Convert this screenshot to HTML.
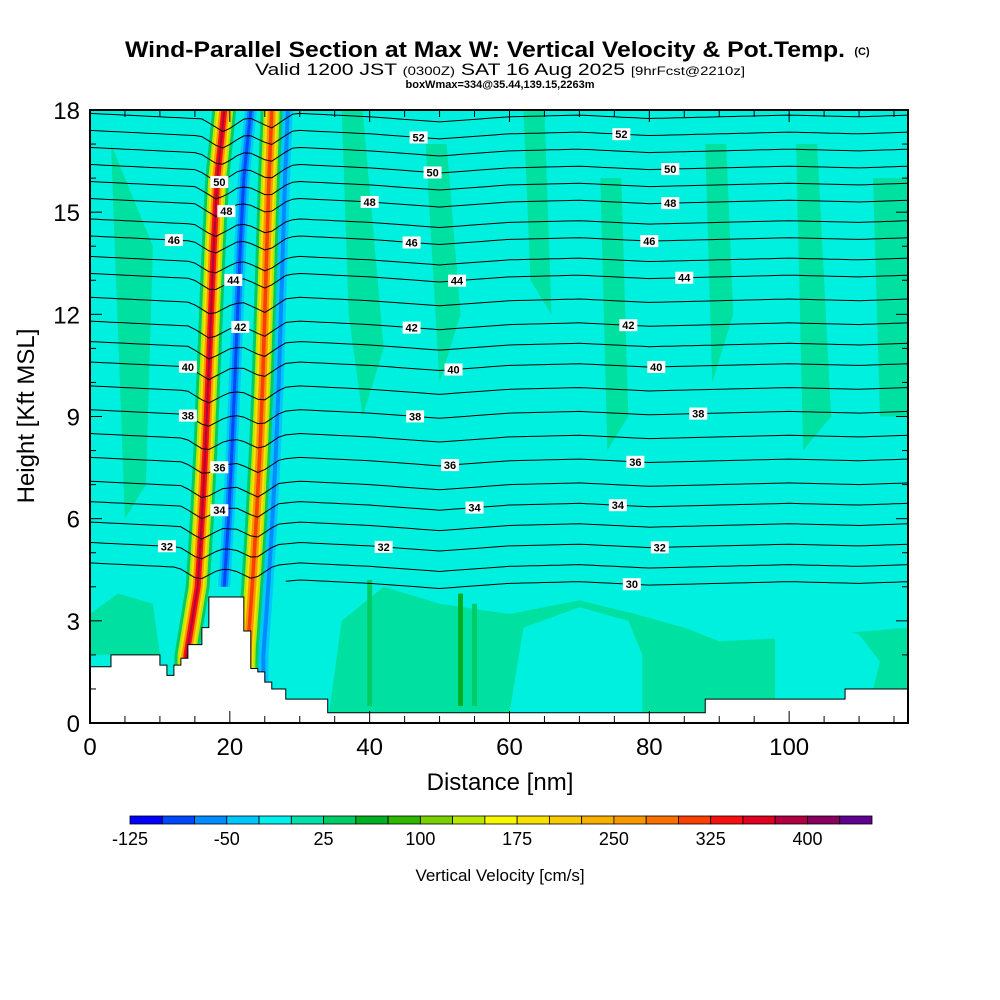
<!DOCTYPE html>
<html><head><meta charset="utf-8"><style>
body{margin:0;background:#fff;width:1000px;height:1000px;overflow:hidden;font-family:"Liberation Sans",sans-serif}
svg{display:block}
</style></head><body>
<svg id="chart" width="1000" height="1000" xmlns="http://www.w3.org/2000/svg">
<text x="125" y="57" font-size="22" font-weight="bold" textLength="720" lengthAdjust="spacingAndGlyphs">Wind-Parallel Section at Max W: Vertical Velocity &amp; Pot.Temp.</text>
<text x="862" y="55" font-size="11" font-weight="bold" text-anchor="middle">(C)</text>
<text x="255" y="75" font-size="17" textLength="490" lengthAdjust="spacingAndGlyphs">Valid 1200 JST <tspan font-size="12">(0300Z)</tspan> SAT 16 Aug 2025 <tspan font-size="12">[9hrFcst@2210z]</tspan></text>
<text x="500" y="88" font-size="11" font-weight="bold" text-anchor="middle">boxWmax=334@35.44,139.15,2263m</text>
<defs><clipPath id="pc"><rect x="90" y="110" width="818" height="613"/></clipPath></defs>
<g id="plot" clip-path="url(#pc)"></g>
<g id="axes"></g>
<text transform="translate(34,416) rotate(-90)" font-size="24" text-anchor="middle">Height [Kft MSL]</text>
<text x="500" y="790" font-size="24" text-anchor="middle">Distance [nm]</text>
<g id="cbar"></g>
<text x="500" y="881" font-size="17" text-anchor="middle">Vertical Velocity [cm/s]</text>
</svg>
<script>
const NS="http://www.w3.org/2000/svg";
// ---- data ----
const thetaLevels=[30,31,32,33,34,35,36,37,38,39,40,41,42,43,44,45,46,47,48,49,50,51,52,53];
const thetaHeights=[4.1,4.6,5.2,5.8,6.4,7.0,7.7,8.4,9.1,9.8,10.5,11.1,11.7,12.4,13.1,13.6,14.2,14.7,15.3,15.8,16.3,16.8,17.3,17.8];
const wiggleNm=[0,10,20,30,40,50,60,70,80,90,100,110,117];
const wiggleKft=[0.1,0.0,-0.1,0.1,0.0,-0.15,0.0,0.05,-0.05,0.0,0.05,0.0,0.05];
const bandAHeights=[2,4,6,8,10,12,14,16,18];
const bandACenter=[13.8,15.4,16.0,16.5,16.9,17.3,17.7,18.2,19.2];
const bandBCenter=[22.5,23.2,23.8,24.3,24.7,25.0,25.3,25.6,26.0];
const terrainNm=[0,3,10,11,12,13,14,16,17,20,22,23,24,25,26,28,30,34,88,108,117];
const terrainKft=[1.65,2.0,1.7,1.4,1.7,1.9,2.3,2.8,3.7,3.7,2.7,1.6,1.5,1.2,1.0,0.7,0.7,0.3,0.7,1.0,1.3];
const labelLevels=[52,52,50,50,48,48,46,46,44,44,42,42,40,40,38,38,36,36,34,34,32,32,30,46,50,48,44,42,40,38,36,34,32];
const labelNm=[47,76,49,83,40,83,46,80,52.5,85,46,77,52,81,46.5,87,51.5,78,55,75.5,42,81.5,77.5,12,18.5,19.5,20.5,21.5,14,14,18.5,18.5,11];
const cbColors=["#0000ff","#0048ff","#008cff","#00c8ff","#00f0f0","#00e0a8","#00cc66","#00b020","#30b800","#78d000","#b8e800","#f8f800","#f8e000","#f8c800","#f8b000","#f89800","#f87000","#f84000","#f81010","#e00020","#b00040","#880060","#600090"];
const cbTicks=["-125","-50","25","100","175","250","325","400"];
const cbTickIdx=[0,3,6,9,12,15,18,21];
// ---- scales ----
const X=nm=>90+nm*818/117, Y=k=>723-k*613/18;
function mk(tag,attrs,parent){const e=document.createElementNS(NS,tag);for(const k in attrs)e.setAttribute(k,attrs[k]);parent.appendChild(e);return e;}
function interp(xs,ys,x){if(x<=xs[0])return ys[0];for(let i=1;i<xs.length;i++)if(x<=xs[i])return ys[i-1]+(ys[i]-ys[i-1])*(x-xs[i-1])/(xs[i]-xs[i-1]);return ys[ys.length-1];}
const plot=document.getElementById('plot');
let e;
e=mk('rect',{x:90,y:110,width:818,height:613,fill:'#00f0e0'},plot);

const greens=[[[3,17],[5,16],[9,14],[8,7],[5,6]],[[36,18],[39,18],[42,11],[39,9],[37,12]],[[48,17],[51,17],[53,12],[50,10]],[[62,18],[65,18],[66,12],[63,13]],[[73,16],[76,16],[77,9],[74,8]],[[88,17],[91,17],[92,12],[89,10]],[[101,17],[104,17],[106,9],[102,8]],[[112,16],[117,16],[117,9],[113,9]],[[34,0],[117,0],[117,2.8],[100,2.5],[90,2.4],[85,2.8],[78,3.2],[70,3.6],[60,3.2],[50,3.5],[42,4],[36,3]],[[0,2],[10,2],[9,3.5],[4,3.8],[0,3.2]]];
greens.forEach(g=>{e=mk('polygon',{points:g.map(p=>X(p[0])+','+Y(p[1])).join(' '),fill:'#00e0a0'},plot);
});
e=mk('polygon',{points:[[60,0.3],[62,2.8],[70,3.4],[77,3.0],[79,2],[79,0.3]].map(p=>X(p[0])+','+Y(p[1])).join(' '),fill:'#00f0e0'},plot);

e=mk('polygon',{points:[[98,0.7],[98,2.6],[104,2.9],[110,2.6],[113,1.8],[112,1],[108,1],[108,0.7]].map(p=>X(p[0])+','+Y(p[1])).join(' '),fill:'#00f0e0'},plot);

[[53,0.5,3.8,'#00b020'],[40,0.5,4.2,'#00cc66'],[55,0.5,3.5,'#00cc66']].forEach(s=>{e=mk('rect',{x:X(s[0])-2.5,y:Y(s[2]),width:5,height:Y(s[1])-Y(s[2]),fill:s[3]},plot);
});
function band(centers,widths,bottom){
  widths.forEach(w=>{const L=[],R=[];for(let k=bottom;k<=18.5;k+=0.5){const c=interp(bandAHeights,centers,k);L.push(X(c)-w[0]+','+Y(k));R.unshift(X(c)+w[0]+','+Y(k));}
  e=mk('polygon',{points:L.concat(R).join(' '),fill:w[1]},plot);
  });
}
band(bandAHeights.map((k,i)=>bandACenter[i]+3.8),[[6,'#00c8ff'],[3.5,'#008cff'],[1.5,'#0048ff']],4);
band(bandBCenter.map(c=>c+2.3),[[5,'#00c8ff'],[2,'#008cff']],1);
band(bandACenter,[[12,'#00cc66'],[9,'#b8e800'],[7,'#f8e000'],[5,'#f89800'],[3,'#f81010'],[1,'#b00040']],1.5);
band(bandBCenter,[[11,'#00cc66'],[8,'#b8e800'],[6,'#f8e000'],[4,'#f89800'],[1.8,'#f84000']],1.2);
function thetaY(i,nm){let h=thetaHeights[i]+interp(wiggleNm,wiggleKft,nm);
  [bandACenter,bandBCenter].forEach(bc=>{const c=interp(bandAHeights,bc,h);const d=Math.abs(nm-c);if(d<3)h-=0.35*(1-d/3);});
  return Y(h);}
thetaLevels.forEach((lv,i)=>{const pts=[];for(let nm=(lv===30?28:0);nm<=117;nm+=1)pts.push(X(nm)+','+thetaY(i,nm).toFixed(1));
  e=mk('polyline',{points:pts.join(' '),fill:'none',stroke:'#000','stroke-width':1},plot);
  });
const tp=[];terrainNm.forEach((n,i)=>{tp.push(X(n)+','+Y(terrainKft[i]));if(i<terrainNm.length-1)tp.push(X(terrainNm[i+1])+','+Y(terrainKft[i]));});
e=mk('polygon',{points:X(0)+','+Y(-1)+' '+tp.join(' ')+' '+X(117)+','+Y(-1),fill:'#fff',stroke:'#000','stroke-width':1},plot);

labelLevels.forEach((lv,j)=>{const i=thetaLevels.indexOf(lv);const x=X(labelNm[j]),y=thetaY(i,labelNm[j]);
  const g=mk('g',{},plot);
  mk('rect',{x:x-9,y:y-6,width:18,height:12,fill:'#fff'},g);
  mk('text',{x:x,y:y+4,'font-size':11,'font-weight':'bold','text-anchor':'middle'},g).textContent=lv;});
const ax=document.getElementById('axes');
e=mk('rect',{x:90,y:110,width:818,height:613,fill:'none',stroke:'#000','stroke-width':2},ax);

for(let nm=0;nm<=115;nm+=5){const l=nm%20===0?12:7;mk('line',{x1:X(nm),x2:X(nm),y1:723,y2:723-l,stroke:'#000'},ax);mk('line',{x1:X(nm),x2:X(nm),y1:110,y2:110+l,stroke:'#000'},ax);
  if(nm%20===0){e=mk('text',{x:X(nm),y:755,'font-size':24,'text-anchor':'middle'},ax);e.textContent=nm;}}
for(let k=0;k<=18;k+=1){const l=k%3===0?12:6;mk('line',{x1:90,x2:90+l,y1:Y(k),y2:Y(k),stroke:'#000'},ax);mk('line',{x1:908,x2:908-l,y1:Y(k),y2:Y(k),stroke:'#000'},ax);
  if(k%3===0){e=mk('text',{x:80,y:Y(k)+9,'font-size':24,'text-anchor':'end'},ax);e.textContent=k;}}
const cb=document.getElementById('cbar');const bw=742/23;
cbColors.forEach((c,i)=>{e=mk('rect',{x:130+i*bw,y:816,width:bw,height:8,fill:c,stroke:'#000','stroke-width':0.8},cb);
  });
cbTicks.forEach((t,i)=>{e=mk('text',{x:130+cbTickIdx[i]*bw,y:845,'font-size':18,'text-anchor':'middle'},cb);e.textContent=t;
  });
</script>
</body></html>
